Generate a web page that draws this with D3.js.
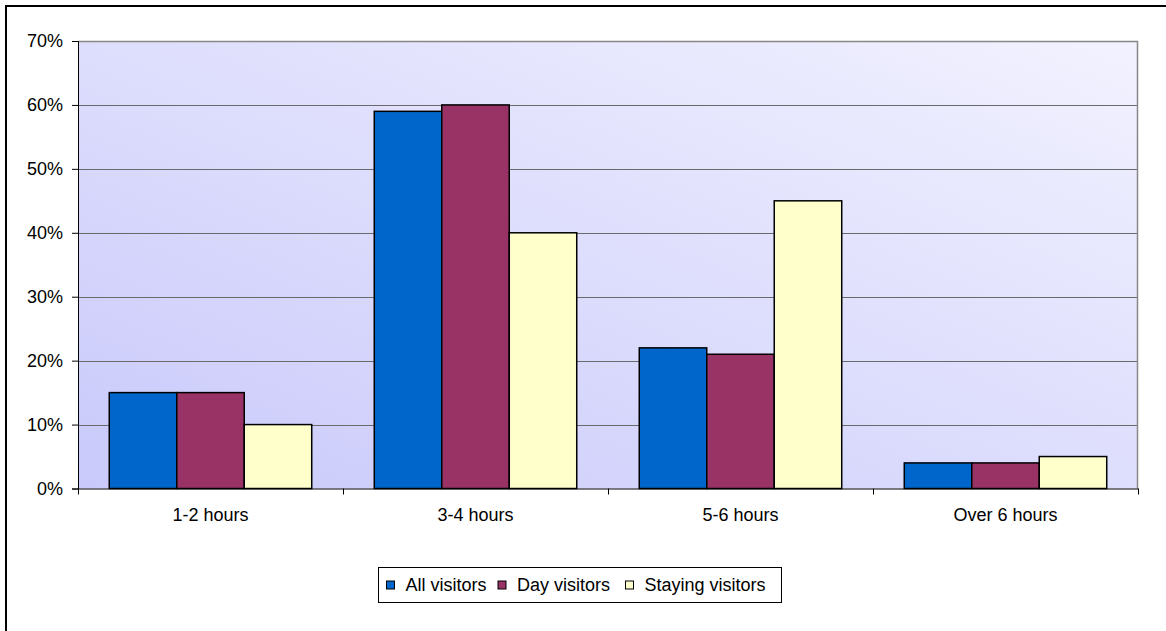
<!DOCTYPE html>
<html><head><meta charset="utf-8">
<script src="https://cdn.jsdelivr.net/npm/d3@7"></script>
<style>body{margin:0;background:#fff;overflow:hidden;} text{font-family:"Liberation Sans",Arial,sans-serif;}</style>
</head><body>
<svg id="c" width="1166" height="631"></svg>
<script>
const categories = ["1-2 hours","3-4 hours","5-6 hours","Over 6 hours"];
const seriesNames = ["All visitors","Day visitors","Staying visitors"];
const allVisitors = [15,59,22,4];
const dayVisitors = [15,60,21,4];
const stayingVisitors = [10,40,45,5];
const yTicks = [0,10,20,30,40,50,60,70];
const colors = ["#0066CC","#993366","#FFFFCC"];
const seriesValues = [allVisitors, dayVisitors, stayingVisitors];

const svg = d3.select("#c");
const L=78, R=1138, T=41, B=488.5;
const FS = 18;

svg.append("rect").attr("x",6).attr("y",6).attr("width",1170).attr("height",640)
  .attr("fill","#fff").attr("stroke","#000").attr("stroke-width",2);

const defs = svg.append("defs");
const g = defs.append("linearGradient").attr("id","bg").attr("x1","0").attr("y1","1").attr("x2","1").attr("y2","0");
g.append("stop").attr("offset","0").attr("stop-color","#c9c9fb");
g.append("stop").attr("offset","1").attr("stop-color","#f2f2ff");

const x = d3.scaleBand().domain(categories).range([L,R]).paddingInner(0).paddingOuter(0);
const y = d3.scaleLinear().domain([0,70]).range([B,T]);
const inner = x.bandwidth()*0.764;
const xs = d3.scaleBand().domain(seriesNames).range([0,inner]);
const off = (x.bandwidth()-inner)/2;

svg.append("rect").attr("x",L).attr("y",T).attr("width",R-L).attr("height",B-T).attr("fill","url(#bg)");

// gridlines
svg.append("g").selectAll("line").data(yTicks.filter(d=>d>0)).join("line")
  .attr("x1",L).attr("x2",R).attr("y1",d=>Math.round(y(d))+0.5).attr("y2",d=>Math.round(y(d))+0.5)
  .attr("stroke","#6a6a6a").attr("stroke-width",1);
// plot border right/top
svg.append("path").attr("d",`M${L},${T+0.5}H${R-0.5}V${B}`).attr("fill","none").attr("stroke","#888").attr("stroke-width",1.5);

// bars
const grp = svg.append("g");
seriesValues.forEach((vals,si)=>{
  grp.append("g").selectAll("rect").data(vals).join("rect")
    .attr("x",(d,i)=>x(categories[i])+off+xs(seriesNames[si]))
    .attr("y",d=>y(d))
    .attr("width",xs.bandwidth())
    .attr("height",d=>B-y(d))
    .attr("fill",colors[si]).attr("stroke","#000").attr("stroke-width",1.5);
});

// y axis
const ya = svg.append("g").attr("transform",`translate(${L},0)`)
  .call(d3.axisLeft(y).tickValues(yTicks).tickFormat(d=>d+"%").tickSize(6).tickPadding(9));
ya.select(".domain").attr("stroke","#000").attr("stroke-width",1);
ya.selectAll("line").attr("stroke","#000");
ya.selectAll("text").attr("font-size",FS).attr("fill","#000").attr("font-family","Liberation Sans, Arial, sans-serif");

// x axis
const xa = svg.append("g").attr("transform",`translate(0,${B})`)
  .call(d3.axisBottom(x).tickSize(0).tickPadding(20));
xa.select(".domain").attr("stroke","#000").attr("stroke-width",1);
xa.selectAll("text").attr("font-size",FS).attr("fill","#000").attr("font-family","Liberation Sans, Arial, sans-serif");
const bounds = categories.map(c=>x(c)).concat([R]);
svg.append("g").selectAll("line").data(bounds).join("line")
  .attr("x1",d=>Math.round(d)+0.5).attr("x2",d=>Math.round(d)+0.5).attr("y1",B).attr("y2",B+6).attr("stroke","#000");

// legend
const lg = svg.append("g");
lg.append("rect").attr("x",378.5).attr("y",567.5).attr("width",403).attr("height",35).attr("fill","#fff").attr("stroke","#000").attr("stroke-width",1);
const lx = [386.5, 498, 625.5];
seriesNames.forEach((n,i)=>{
  lg.append("rect").attr("x",lx[i]).attr("y",581).attr("width",8).attr("height",8).attr("fill",colors[i]).attr("stroke","#000").attr("stroke-width",1);
  lg.append("text").attr("x",lx[i]+19).attr("y",590.5).attr("font-size",FS).text(n);
});
</script>
</body></html>
